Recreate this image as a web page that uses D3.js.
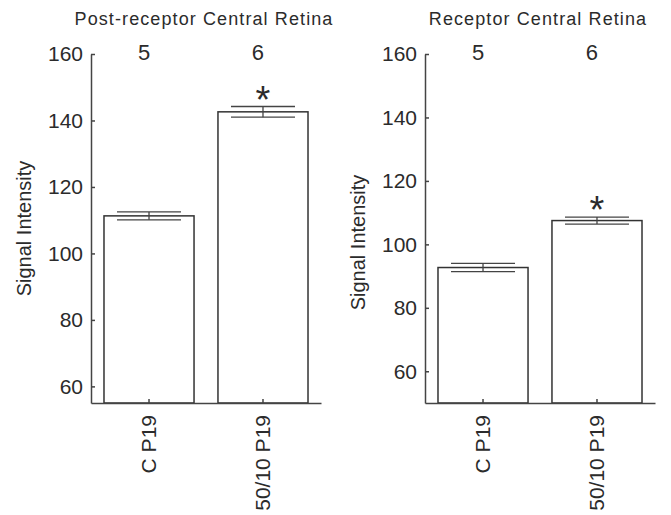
<!DOCTYPE html>
<html>
<head>
<meta charset="utf-8">
<script src="https://cdn.jsdelivr.net/npm/d3@7"></script>
<style>
  body { margin: 0; background: #fff; }
  text { font-family: "Liberation Sans", Arial, sans-serif; fill: #2b2b2b; }
</style>
</head>
<body>
<script>
// ---------------------------------------------------------------- //
//                              DATA                                //
// ---------------------------------------------------------------- //

var categories = ["C P19", "50/10 P19"];
var nLabels    = ["5", "6"];
var yTicks     = [60, 80, 100, 120, 140, 160];

var postTitle  = "Post-receptor Central Retina";
var postMeans  = [111.3, 142.6];
var postErrors = [1.2, 1.6];
var postStars  = ["", "*"];

var recTitle   = "Receptor Central Retina";
var recMeans   = [92.7, 107.5];
var recErrors  = [1.3, 1.1];
var recStars   = ["", "*"];

var W = 671, H = 515;
var ink = "#444";

var svg = d3.select("body")
    .append("svg")
    .attr("width", W)
    .attr("height", H);

// ---------------------------------------------------------------- //
//                             PANEL                                //
// ---------------------------------------------------------------- //

function drawPanel (left, yMin, title, means, errors, stars, labelShift)
{
    var top = 54, bottom = 403, width = 230;

    var x = d3.scaleBand()
        .domain(categories)
        .range([left, left + width])
        .paddingInner(0.21)
        .paddingOuter(0.114);

    var y = d3.scaleLinear()
        .domain([yMin, 160])
        .range([bottom, top]);

    var g = svg.append("g");

    // title
    g.append("text")
        .attr("x", left + width / 2 - 2)
        .attr("y", 25)
        .attr("text-anchor", "middle")
        .style("font-size", "18px")
        .style("letter-spacing", "1.1px")
        .text(title);

    // bars
    g.selectAll("rect.bar")
        .data(means)
        .enter()
        .append("rect")
        .attr("class", "bar")
        .attr("x", function(d, i) { return x(categories[i]); })
        .attr("y", function(d) { return y(d); })
        .attr("width", x.bandwidth())
        .attr("height", function(d) { return bottom - y(d); })
        .attr("fill", "white")
        .attr("stroke", "#333")
        .attr("stroke-width", 1.5);

    // error bars
    var capHalf = 32;
    means.forEach(function(m, i) {
        var cx = x(categories[i]) + x.bandwidth() / 2;
        var lo = y(m - errors[i]), hi = y(m + errors[i]);
        g.append("line")
            .attr("x1", cx).attr("x2", cx)
            .attr("y1", lo).attr("y2", hi)
            .attr("stroke", ink).attr("stroke-width", 1.3);
        [lo, hi].forEach(function(yy) {
            g.append("line")
                .attr("x1", cx - capHalf).attr("x2", cx + capHalf)
                .attr("y1", yy).attr("y2", yy)
                .attr("stroke", ink).attr("stroke-width", 1.3);
        });
        if (stars[i]) {
            g.append("text")
                .attr("x", cx)
                .attr("y", hi + 6)
                .attr("text-anchor", "middle")
                .style("font-size", "38px")
                .text(stars[i]);
        }
        // n labels
        g.append("text")
            .attr("x", cx - 5)
            .attr("y", 60)
            .attr("text-anchor", "middle")
            .style("font-size", "22px")
            .text(nLabels[i]);
    });

    // y axis
    var yAxis = g.append("g")
        .attr("transform", "translate(" + left + ",0)")
        .call(d3.axisLeft(y).tickValues(yTicks).tickSizeInner(-4).tickSizeOuter(0).tickPadding(8));
    yAxis.selectAll("text").style("font-size", "21px").style("fill", "#2b2b2b");

    // x axis
    var xAxis = g.append("g")
        .attr("transform", "translate(0," + bottom + ")")
        .call(d3.axisBottom(x).tickSizeInner(-4).tickSizeOuter(0));
    xAxis.selectAll("text")
        .style("font-size", "21px")
        .style("fill", "#2b2b2b")
        .attr("text-anchor", "end")
        .attr("transform", "rotate(-90)")
        .attr("x", -12)
        .attr("y", 0)
        .attr("dy", "0.35em");

    svg.selectAll(".domain, .tick line")
        .attr("stroke", ink)
        .attr("stroke-width", 1.5);
    svg.selectAll(".tick text").style("font-family", "Liberation Sans, Arial, sans-serif");

    // y label
    g.append("text")
        .attr("transform", "translate(" + (left - 60) + "," + ((top + bottom) / 2 + labelShift) + ") rotate(-90)")
        .attr("text-anchor", "middle")
        .style("font-size", "20px")
        .text("Signal Intensity");
}

drawPanel(91, 55, postTitle, postMeans, postErrors, postStars, 0);
drawPanel(425, 50, recTitle, recMeans, recErrors, recStars, 14);
</script>
</body>
</html>
